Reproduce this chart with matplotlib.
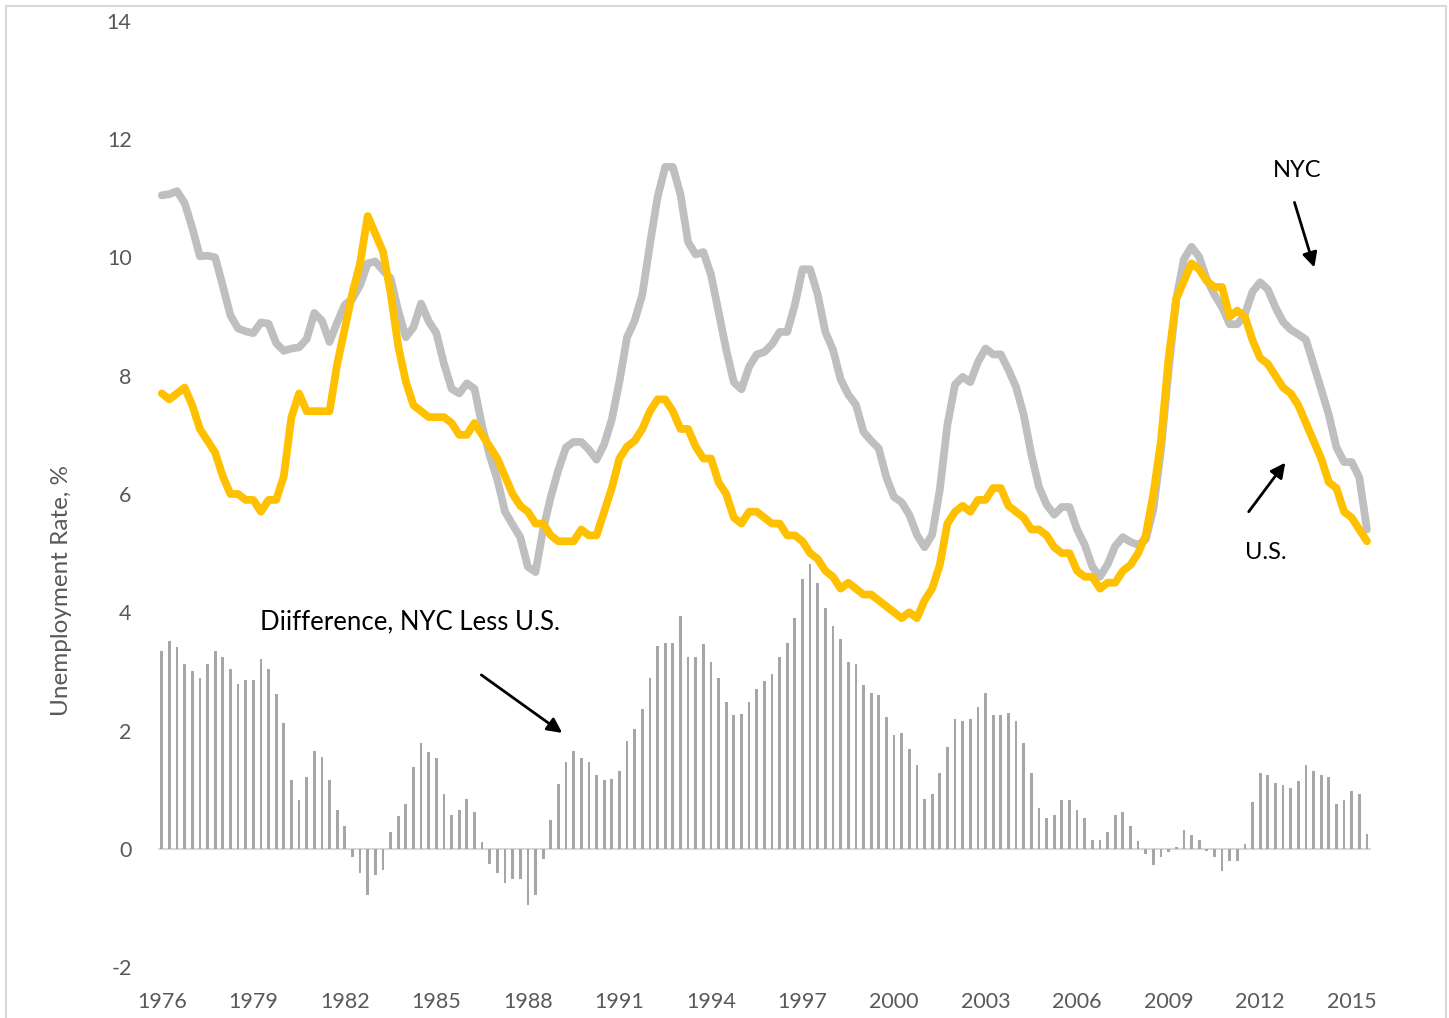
# NYC vs U.S. unemployment rate, quarterly 1976Q1 - 2015Q3

import numpy as np
import matplotlib
matplotlib.use('Agg')
import matplotlib.pyplot as plt
from matplotlib.patches import Rectangle

plt.rcParams['font.family'] = ['Lato', 'DejaVu Sans']
plt.rcParams['axes.unicode_minus'] = False

# quarterly values (one row per year)
us = [7.7, 7.6, 7.7, 7.8,
      7.5, 7.1, 6.9, 6.7,
      6.3, 6.0, 6.0, 5.9,
      5.9, 5.7, 5.9, 5.9,
      6.3, 7.3, 7.7, 7.4,
      7.4, 7.4, 7.4, 8.2,
      8.8, 9.4, 9.9, 10.7,
      10.4, 10.1, 9.4, 8.5,
      7.9, 7.5, 7.4, 7.3,
      7.3, 7.3, 7.2, 7.0,
      7.0, 7.2, 7.0, 6.8,
      6.6, 6.3, 6.0, 5.8,
      5.7, 5.5, 5.5, 5.3,
      5.2, 5.2, 5.2, 5.4,
      5.3, 5.3, 5.7, 6.1,
      6.6, 6.8, 6.9, 7.1,
      7.4, 7.6, 7.6, 7.4,
      7.1, 7.1, 6.8, 6.6,
      6.6, 6.2, 6.0, 5.6,
      5.5, 5.7, 5.7, 5.6,
      5.5, 5.5, 5.3, 5.3,
      5.2, 5.0, 4.9, 4.7,
      4.6, 4.4, 4.5, 4.4,
      4.3, 4.3, 4.2, 4.1,
      4.0, 3.9, 4.0, 3.9,
      4.2, 4.4, 4.8, 5.5,
      5.7, 5.8, 5.7, 5.9,
      5.9, 6.1, 6.1, 5.8,
      5.7, 5.6, 5.4, 5.4,
      5.3, 5.1, 5.0, 5.0,
      4.7, 4.6, 4.6, 4.4,
      4.5, 4.5, 4.7, 4.8,
      5.0, 5.3, 6.0, 6.9,
      8.3, 9.3, 9.6, 9.9,
      9.8, 9.6, 9.5, 9.5,
      9.0, 9.1, 9.0, 8.6,
      8.3, 8.2, 8.0, 7.8,
      7.7, 7.5, 7.2, 6.9,
      6.6, 6.2, 6.1, 5.7,
      5.6, 5.4, 5.2]

nyc = [11.05, 11.07, 11.12, 10.92,
       10.50, 10.02, 10.03, 10.00,
       9.52, 9.02, 8.80, 8.75,
       8.72, 8.90, 8.88, 8.55,
       8.42, 8.46, 8.48, 8.62,
       9.06, 8.93, 8.57, 8.90,
       9.20, 9.30, 9.53, 9.90,
       9.93, 9.78, 9.65, 9.10,
       8.65, 8.82, 9.22, 8.92,
       8.72, 8.20, 7.78, 7.70,
       7.87, 7.78, 7.15, 6.65,
       6.24, 5.70, 5.48, 5.27,
       4.77, 4.68, 5.40, 5.95,
       6.41, 6.79, 6.88, 6.88,
       6.75, 6.58, 6.84, 7.26,
       7.90, 8.65, 8.93, 9.37,
       10.22, 11.02, 11.53, 11.53,
       11.07, 10.26, 10.05, 10.09,
       9.71, 9.08, 8.44, 7.89,
       7.77, 8.15, 8.36, 8.40,
       8.53, 8.74, 8.74, 9.20,
       9.80, 9.80, 9.37, 8.74,
       8.44, 7.94, 7.68, 7.51,
       7.05, 6.90, 6.77, 6.28,
       5.95, 5.86, 5.65, 5.31,
       5.10, 5.31, 6.07, 7.17,
       7.85, 7.98, 7.89, 8.23,
       8.46, 8.36, 8.36, 8.10,
       7.81, 7.34, 6.67, 6.12,
       5.82, 5.65, 5.78, 5.78,
       5.40, 5.14, 4.77, 4.60,
       4.81, 5.12, 5.27, 5.19,
       5.14, 5.23, 5.74, 6.75,
       8.10, 9.29, 9.97, 10.18,
       10.01, 9.63, 9.37, 9.16,
       8.87, 8.87, 9.04, 9.42,
       9.58, 9.46, 9.16, 8.91,
       8.78, 8.70, 8.61, 8.19,
       7.77, 7.34, 6.79, 6.54,
       6.54, 6.28, 5.40]

diff = [3.34, 3.51, 3.41, 3.13,
        3.00, 2.89, 3.13, 3.34,
        3.24, 3.04, 2.79, 2.86,
        2.86, 3.21, 3.04, 2.62,
        2.13, 1.16, 0.82, 1.22,
        1.66, 1.56, 1.16, 0.66,
        0.38, -0.14, -0.41, -0.78,
        -0.45, -0.36, 0.29, 0.55,
        0.75, 1.39, 1.79, 1.64,
        1.53, 0.93, 0.58, 0.66,
        0.85, 0.62, 0.11, -0.25,
        -0.41, -0.58, -0.51, -0.51,
        -0.95, -0.78, -0.17, 0.49,
        1.09, 1.46, 1.66, 1.53,
        1.46, 1.25, 1.17, 1.18,
        1.32, 1.83, 2.02, 2.36,
        2.89, 3.43, 3.48, 3.48,
        3.93, 3.24, 3.24, 3.46,
        3.16, 2.89, 2.49, 2.26,
        2.28, 2.49, 2.70, 2.83,
        2.96, 3.24, 3.48, 3.90,
        4.57, 4.81, 4.50, 4.07,
        3.77, 3.54, 3.16, 3.13,
        2.77, 2.63, 2.60, 2.23,
        1.93, 1.96, 1.69, 1.42,
        0.85, 0.92, 1.29, 1.73,
        2.19, 2.16, 2.19, 2.39,
        2.63, 2.26, 2.26, 2.29,
        2.16, 1.79, 1.29, 0.69,
        0.52, 0.58, 0.82, 0.82,
        0.66, 0.52, 0.15, 0.15,
        0.29, 0.58, 0.62, 0.38,
        0.14, -0.08, -0.28, -0.13,
        -0.06, 0.03, 0.32, 0.23,
        0.15, -0.04, -0.14, -0.38,
        -0.21, -0.21, 0.08, 0.79,
        1.29, 1.25, 1.12, 1.08,
        1.02, 1.15, 1.42, 1.32,
        1.25, 1.22, 0.75, 0.82,
        0.98, 0.92, 0.25]

year_labels = ['1976', '1979', '1982', '1985', '1988', '1991', '1994',
               '1997', '2000', '2003', '2006', '2009', '2012', '2015']

x = np.arange(len(us))
tick_pos = np.arange(len(year_labels)) * 12

fig = plt.figure(figsize=(14.49, 10.18), dpi=100)
ax = fig.add_axes([0.109, 0.050, 0.837, 0.9295])

ax.bar(x, diff, width=0.36, color='#A6A6A6', zorder=2)
ax.axhline(0, color='#D9D9D9', lw=1.5, zorder=1)
ax.plot(x, nyc, color='#BFBFBF', lw=5.6, solid_joinstyle='round',
        solid_capstyle='round', zorder=3)
ax.plot(x, us, color='#FFC000', lw=5.6, solid_joinstyle='round',
        solid_capstyle='round', zorder=4)

ax.set_xlim(-0.5, len(us) - 0.5)
ax.set_ylim(-2, 14)
ax.set_yticks(np.arange(-2, 15, 2))
ax.set_xticks(tick_pos)
ax.set_xticklabels(year_labels)
ax.tick_params(axis='y', length=0, pad=19, labelsize=15.5, labelcolor='#595959')
ax.tick_params(axis='x', length=0, pad=18, labelsize=15.5, labelcolor='#595959')
for s in ax.spines.values():
    s.set_visible(False)

fig.text(62 / 1449, 1 - 590 / 1018, 'Unemployment Rate, %', rotation=90,
         ha='center', va='center', fontsize=17.5, color='#595959')

# annotations
arrow = dict(arrowstyle='-|>', color='black', lw=2, mutation_scale=22,
             shrinkA=0, shrinkB=0)
ax.text(148.8, 11.47, 'NYC', ha='center', va='center', fontsize=17)
ax.annotate('', xy=(151.1, 9.83), xytext=(148.5, 10.93), arrowprops=arrow)
ax.text(144.8, 5.01, 'U.S.', ha='center', va='center', fontsize=17)
ax.annotate('', xy=(147.3, 6.53), xytext=(142.5, 5.70), arrowprops=arrow)
ax.text(12.9, 3.84, 'Diifference, NYC Less U.S.', ha='left', va='center',
        fontsize=18.5)
ax.annotate('', xy=(52.5, 1.96), xytext=(41.9, 2.94), arrowprops=arrow)

# chart area border
fig.patches.append(Rectangle((6 / 1449, -0.01), 1440 / 1449, 1.004,
                             transform=fig.transFigure, fill=False,
                             edgecolor='#D9D9D9', lw=1.5))

fig.savefig('out.png', dpi=100)
